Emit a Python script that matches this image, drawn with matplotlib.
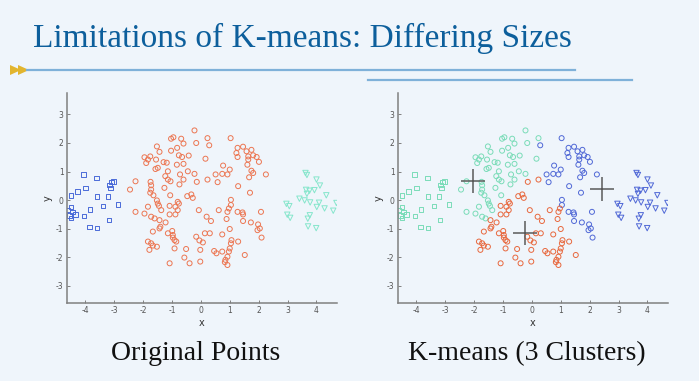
import matplotlib.pyplot as plt
import numpy as np
from matplotlib.lines import Line2D
from matplotlib.patches import Polygon

plt.rcParams['axes.unicode_minus'] = False

# small cluster (squares)
sq_x = [-4.05, -3.61, -3.10, -3.03, -3.15, -3.13, -4.26, -3.99, -4.49, -3.59, -3.21, -2.86,
        -3.39, -3.83, -4.61, -4.49, -4.45, -4.54, -4.49, -4.34, -4.04, -3.85, -3.59, -3.18]
sq_y = [0.90, 0.77, 0.63, 0.65, 0.53, 0.42, 0.30, 0.42, 0.17, 0.13, 0.13, -0.15,
        -0.21, -0.33, -0.34, -0.24, -0.42, -0.53, -0.63, -0.51, -0.56, -0.94, -0.97, -0.69]

# big cluster (circles)
ci_x = [-0.22, -1.03, -0.95, -0.68, -0.16, -0.60, -1.52, -1.43, -0.82, -1.03, -0.42, -1.95,
        -1.75, -1.83, -1.89, -1.55, -1.29, -1.18, -0.76, -0.65, -0.83, -0.60, -1.57, -1.49,
        -1.14, -0.45, -0.22, -0.72, -0.60, -1.23, -1.14, -1.05, -2.26, -1.74, -1.72, -0.14,
        -1.26, -0.74, -2.45, -1.72, -1.75, -1.64, -1.06, -0.47, -0.33, -0.28, -1.52, -0.80,
        0.23, 0.29, 1.03, 0.16, 1.27, 1.46, 1.58, 1.75, 1.23, 1.27, 1.64, 1.81,
        1.93, 1.64, 1.61, 2.01, 0.77, 1.00, 0.74, 0.92, 0.51, 0.58, 1.75, 1.81,
        1.67, 2.25, 0.23, 1.29, 1.70, 1.04,
        -1.49, -1.45, -1.83, -1.08, -0.88, -0.76, -0.80, -1.08, -0.88, -1.37, -2.26, -1.95,
        -1.72, -1.60, -1.43, -1.22, -0.07, -1.66, -1.40, -1.43, -1.14, -0.99, -0.97, -0.91,
        -0.85, -0.97, -0.16, -0.05, 0.07, -1.83, -1.72, -1.66, -1.52, -1.78, -0.91, -0.51,
        -0.02, -0.57, -0.39, -1.08, -0.02,
        1.04, 0.97, 0.92, 0.62, 1.27, 1.44, 1.46, 2.08, 0.20, 0.35, 0.89, 1.46,
        1.73, 1.98, 2.04, 1.96, 1.00, 0.14, 0.31, 0.74, 1.06, 1.04, 1.00, 0.97,
        0.92, 1.29, 2.10, 0.46, 0.54, 0.74, 0.85, 0.92, 1.52, 0.83]
ci_y = [2.44, 2.15, 2.20, 2.15, 2.00, 1.98, 1.88, 1.69, 1.83, 1.73, 1.56, 1.50,
        1.53, 1.42, 1.30, 1.42, 1.33, 1.31, 1.57, 1.51, 1.24, 1.27, 1.09, 1.13,
        1.01, 1.01, 0.92, 0.90, 0.72, 0.84, 0.72, 0.66, 0.66, 0.64, 0.52, 0.64,
        0.43, 0.55, 0.37, 0.37, 0.26, 0.17, 0.17, 0.14, 0.20, 0.08, -0.01, -0.06,
        2.17, 1.92, 2.17, 1.45, 1.83, 1.87, 1.71, 1.76, 1.65, 1.51, 1.53, 1.57,
        1.51, 1.42, 1.24, 1.34, 1.21, 1.07, 0.92, 0.90, 0.90, 0.63, 1.03, 0.95,
        0.80, 0.90, 0.72, 0.49, 0.26, 0.01,
        -0.12, -0.20, -0.23, -0.20, -0.23, -0.12, -0.35, -0.50, -0.50, -0.35, -0.41, -0.47,
        -0.58, -0.64, -0.70, -0.78, -0.35, -1.10, -0.93, -0.99, -1.16, -1.08, -1.22, -1.40,
        -1.45, -1.31, -1.28, -1.41, -1.48, -1.45, -1.51, -1.59, -1.63, -1.74, -1.69, -1.71,
        -1.74, -2.01, -2.21, -2.21, -2.15,
        -0.17, -0.29, -0.41, -0.35, -0.41, -0.43, -0.50, -0.41, -0.58, -0.73, -0.66, -0.73,
        -0.78, -0.85, -0.99, -1.05, -1.01, -1.16, -1.16, -1.20, -1.40, -1.51, -1.69, -1.80,
        -1.98, -1.45, -1.31, -1.78, -1.86, -1.80, -2.09, -2.27, -1.92, -2.17]

# small cluster on the right (triangles)
tr_x = [3.62, 3.67, 4.00, 4.12, 3.64, 3.76, 3.93, 3.67, 4.34, 3.41, 3.59, 3.78, 4.09,
        2.96, 3.06, 4.01, 4.28, 4.69, 4.58, 2.99, 3.09, 3.77, 3.70, 3.71, 3.99]
tr_y = [0.95, 0.88, 0.72, 0.51, 0.36, 0.33, 0.35, 0.22, 0.17, 0.05, -0.01, -0.08, -0.09,
        -0.13, -0.21, -0.24, -0.29, -0.10, -0.37, -0.51, -0.62, -0.53, -0.65, -0.92, -0.98]

# k-means centroids (3 clusters)
cent_x = [-2.03, -0.25, 2.42]
cent_y = [0.66, -1.15, 0.38]

ticks = [-4, -3, -2, -1, 0, 1, 2, 3, 4]
yticks = [-3, -2, -1, 0, 1, 2, 3]

bg = '#eff5fb'
orig_colors = {'s': '#4a6bd8', 'o': '#ec7652', 'v': '#86e6cc'}
km_colors = ['#7adcb8', '#e8683e', '#5068d6']


def nearest(x, y):
    d = (np.asarray(x)[:, None] - np.asarray(cent_x)) ** 2 + \
        (np.asarray(y)[:, None] - np.asarray(cent_y)) ** 2
    return d.argmin(axis=1)


def style(ax):
    ax.set_facecolor('none')
    ax.set_xlim(-4.63, 4.71)
    ax.set_ylim(-3.6, 3.75)
    for s in ['top', 'right']:
        ax.spines[s].set_visible(False)
    for s in ['left', 'bottom']:
        ax.spines[s].set_color('#808080')
        ax.spines[s].set_linewidth(1.1)
    ax.set_xticks(ticks)
    ax.set_yticks(yticks)
    ax.tick_params(direction='in', length=2.5, width=0.7, color='#808080',
                   labelsize=5.5, labelcolor='#555555', pad=2.5)
    ax.set_xlabel('x', fontsize=7, color='#333333', labelpad=2)
    ax.set_ylabel('y', fontsize=7, color='#333333', labelpad=2)


fig = plt.figure(figsize=(6.99, 3.81), dpi=100)
fig.patch.set_facecolor(bg)

ax1 = fig.add_axes([67 / 699, 78 / 381, 270 / 699, 210 / 381])
ax2 = fig.add_axes([398 / 699, 78 / 381, 270 / 699, 210 / 381])

ms = 11
lw = 0.7
ax1.scatter(sq_x, sq_y, s=ms, marker='s', facecolors='none', edgecolors=orig_colors['s'], linewidths=lw)
ax1.scatter(ci_x, ci_y, s=ms + 2, marker='o', facecolors='none', edgecolors=orig_colors['o'], linewidths=lw)
ax1.scatter(tr_x, tr_y, s=ms + 4, marker='v', facecolors='none', edgecolors=orig_colors['v'], linewidths=lw)

for xs, ys, mk, sz in [(sq_x, sq_y, 's', ms), (ci_x, ci_y, 'o', ms + 2), (tr_x, tr_y, 'v', ms + 4)]:
    lab = nearest(xs, ys)
    cols = [km_colors[k] for k in lab]
    ax2.scatter(xs, ys, s=sz, marker=mk, facecolors='none', edgecolors=cols, linewidths=lw)
ax2.plot(cent_x, cent_y, '+', color='#5a5a5a', markersize=17, markeredgewidth=1.1, linestyle='none')

style(ax1)
style(ax2)

# slide title and decorations
fig.text(33 / 699, 1 - 47 / 381, 'Limitations of K-means: Differing Sizes',
         family='Liberation Serif', fontsize=24, color='#0d5f9c', va='baseline')
fig.add_artist(Line2D([27 / 699, 575 / 699], [1 - 70 / 381] * 2, color='#7fb1d9', lw=1.6))
fig.add_artist(Line2D([368 / 699, 632 / 699], [1 - 80 / 381] * 2, color='#7fb1d9', lw=1.6))
for x0 in [10, 18]:
    fig.add_artist(Polygon([[x0 / 699, 1 - 65 / 381], [x0 / 699, 1 - 75 / 381],
                            [(x0 + 11) / 699, 1 - 70 / 381]], closed=True,
                           facecolor='#e2b52e', edgecolor='none'))

fig.text(196 / 699, 1 - 360 / 381, 'Original Points', family='Liberation Serif',
         fontsize=20, color='#111111', ha='center', va='baseline')
fig.text(527 / 699, 1 - 360 / 381, 'K-means (3 Clusters)', family='Liberation Serif',
         fontsize=20, color='#111111', ha='center', va='baseline')

plt.savefig('out.png', dpi=100, facecolor=bg)
